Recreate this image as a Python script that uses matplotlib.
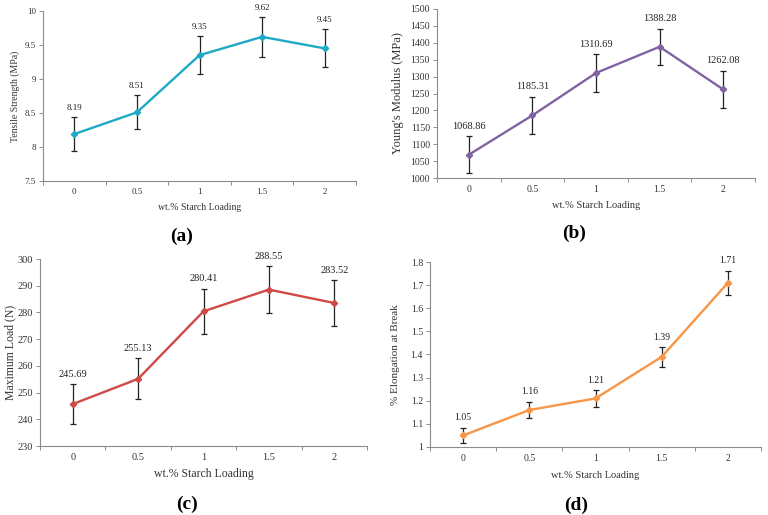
import numpy as np
from matplotlib import pyplot as plt

plt.rcParams['font.family'] = ['Liberation Serif', 'DejaVu Serif']

loading = ['0', '0.5', '1', '1.5', '2']

tensile = [8.19, 8.51, 9.35, 9.62, 9.45]
tensile_err = [0.25, 0.25, 0.28, 0.29, 0.28]

modulus = [1068.86, 1185.31, 1310.69, 1388.28, 1262.08]
modulus_err = [54, 55, 55, 54, 55]

max_load = [245.69, 255.13, 280.41, 288.55, 283.52]
max_load_err = [7.4, 7.7, 8.4, 8.7, 8.5]

elong = [1.05, 1.16, 1.21, 1.39, 1.71]
elong_err = [0.032, 0.035, 0.036, 0.042, 0.051]

W, H = 768, 515
fig = plt.figure(figsize=(W / 100, H / 100), dpi=100)

panels = [
    # box in pixels: left, top, right, bottom
    dict(box=(43, 11, 356, 181), y=tensile, e=tensile_err, c='#1ea9c5',
         ylim=(7.5, 10), step=0.5, ylab='Tensile Strength (MPa)',
         fs_tick=6.5, fs_ylab=7, fs_xlab=7, fs_val=6.5,
         ylab_x=15, xlab_y=208, tag='(a)', tag_xy=(182, 236)),
    dict(box=(437, 9, 755, 178), y=modulus, e=modulus_err, c='#8064a2',
         ylim=(1000, 1500), step=50, ylab="Young's Modulus (MPa)",
         fs_tick=7, fs_ylab=9, fs_xlab=7.5, fs_val=7.5,
         ylab_x=398, xlab_y=206, tag='(b)', tag_xy=(574, 233)),
    dict(box=(40, 259, 367, 446), y=max_load, e=max_load_err, c='#cf4a47',
         ylim=(230, 300), step=10, ylab='Maximum Load (N)',
         fs_tick=7.5, fs_ylab=8.5, fs_xlab=8.5, fs_val=7.5,
         ylab_x=10, xlab_y=474, tag='(c)', tag_xy=(187, 504)),
    dict(box=(430, 262, 761, 447), y=elong, e=elong_err, c='#f79646',
         ylim=(1, 1.8), step=0.1, ylab='% Elongation at Break',
         fs_tick=7, fs_ylab=8, fs_xlab=7.5, fs_val=7,
         ylab_x=396, xlab_y=475, tag='(d)', tag_xy=(576, 505)),
]

x = np.arange(len(loading))
axis_grey = '#8c8c8c'
txt = '#333333'

for p in panels:
    l, t, r, b = p['box']
    ax = fig.add_axes([l / W, 1 - b / H, (r - l) / W, (b - t) / H])
    ax.errorbar(x, p['y'], yerr=p['e'], color=p['c'], lw=1.7, marker='D', ms=3.2,
                ecolor='#222222', elinewidth=0.9, capsize=2, capthick=0.9, zorder=3)
    for xi, v, e in zip(x, p['y'], p['e']):
        ax.annotate('{:.2f}'.format(v), (xi, v + e), xytext=(0, 4),
                    textcoords='offset points', ha='center', va='bottom',
                    fontsize=p['fs_val'], color='#222222', annotation_clip=False)

    ax.set_xlim(-0.5, len(loading) - 0.5)
    ax.set_ylim(*p['ylim'])
    ax.set_yticks(np.arange(p['ylim'][0], p['ylim'][1] + p['step'] / 2, p['step']))
    ax.yaxis.set_major_formatter(plt.FuncFormatter(lambda v, pos: '{:g}'.format(round(v, 3))))
    ax.set_xticks(np.arange(-0.5, len(loading), 1))
    ax.set_xticklabels([])
    ax.set_xticks(x, minor=True)
    ax.set_xticklabels(loading, minor=True)
    ax.tick_params(axis='x', which='minor', length=0, pad=5, labelsize=p['fs_tick'], labelcolor=txt)
    ax.tick_params(axis='x', which='major', length=3, width=0.7, color=axis_grey)
    ax.tick_params(axis='y', length=3, width=0.7, color=axis_grey, pad=2,
                   labelsize=p['fs_tick'], labelcolor=txt)
    for s in ['top', 'right']:
        ax.spines[s].set_visible(False)
    for s in ['left', 'bottom']:
        ax.spines[s].set_color(axis_grey)
        ax.spines[s].set_linewidth(0.8)

    fig.text(p['ylab_x'] / W, 1 - (t + b) / 2 / H, p['ylab'], rotation=90,
             ha='center', va='center', fontsize=p['fs_ylab'], color=txt)
    fig.text((l + r) / 2 / W, 1 - p['xlab_y'] / H, 'wt.% Starch Loading',
             ha='center', va='center', fontsize=p['fs_xlab'], color=txt)
    fig.text(p['tag_xy'][0] / W, 1 - p['tag_xy'][1] / H, p['tag'],
             ha='center', va='center', fontsize=14, fontweight='bold', color='black')

fig.savefig('out.png', dpi=100)
